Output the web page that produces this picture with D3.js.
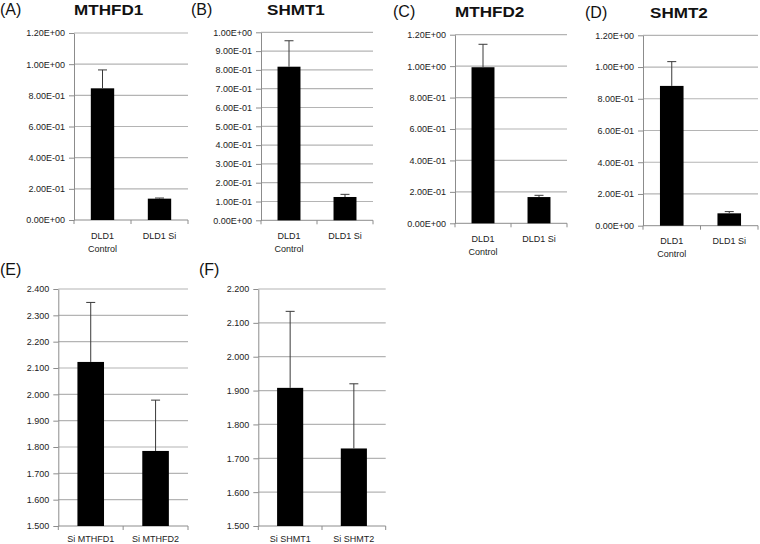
<!DOCTYPE html>
<html><head><meta charset="utf-8">
<script src="https://cdn.jsdelivr.net/npm/d3@7"></script>
<style>body{margin:0;background:#fff}svg{display:block}text{font-family:"Liberation Sans",Arial,sans-serif}</style>
</head><body>
<svg id="c" width="760" height="544"></svg>
<script>
// ---- data ----
const panelLetters = ["(A)", "(B)", "(C)", "(D)", "(E)", "(F)"];
const panelTitles = ["MTHFD1", "SHMT1", "MTHFD2", "SHMT2", "", ""];
const catsDLD = ["DLD1\nControl", "DLD1 Si"];
const catsE = ["Si MTHFD1", "Si MTHFD2"];
const catsF = ["Si SHMT1", "Si SHMT2"];

const valA = [0.845, 0.137], errA = [0.118, 0.004];
const valB = [0.817, 0.124], errB = [0.138, 0.014];
const valC = [0.993, 0.167], errC = [0.146, 0.011];
const valD = [0.881, 0.078], errD = [0.153, 0.011];
const valE = [2.123, 1.785], errE = [0.226, 0.193];
const valF = [1.908, 1.729], errF = [0.226, 0.191];

const ticks12 = [0, 0.2, 0.4, 0.6, 0.8, 1.0, 1.2];
const labels12 = ["0.00E+00", "2.00E-01", "4.00E-01", "6.00E-01", "8.00E-01", "1.00E+00", "1.20E+00"];
const ticks10 = [0, 0.1, 0.2, 0.3, 0.4, 0.5, 0.6, 0.7, 0.8, 0.9, 1.0];
const labels10 = ["0.00E+00", "1.00E-01", "2.00E-01", "3.00E-01", "4.00E-01", "5.00E-01", "6.00E-01", "7.00E-01", "8.00E-01", "9.00E-01", "1.00E+00"];
const ticksE = [1.5, 1.6, 1.7, 1.8, 1.9, 2.0, 2.1, 2.2, 2.3, 2.4];
const labelsE = ["1.500", "1.600", "1.700", "1.800", "1.900", "2.000", "2.100", "2.200", "2.300", "2.400"];
const ticksF = [1.5, 1.6, 1.7, 1.8, 1.9, 2.0, 2.1, 2.2];
const labelsF = ["1.500", "1.600", "1.700", "1.800", "1.900", "2.000", "2.100", "2.200"];

// ---- layout ----
const panels = [
  {cats: catsDLD, vals: valA, errs: errA, ticks: ticks12, labels: labels12, x0: 74, x1: 188, y0: 33, y1: 220, tx: 74, ty: 15, lx: 0, ly: 15, catY: 239},
  {cats: catsDLD, vals: valB, errs: errB, ticks: ticks10, labels: labels10, x0: 261, x1: 373, y0: 32.3, y1: 220.3, tx: 267, ty: 15, lx: 191, ly: 15, catY: 239},
  {cats: catsDLD, vals: valC, errs: errC, ticks: ticks12, labels: labels12, x0: 455, x1: 567, y0: 34.7, y1: 223.3, tx: 455, ty: 16.5, lx: 393, ly: 16.5, catY: 242},
  {cats: catsDLD, vals: valD, errs: errD, ticks: ticks12, labels: labels12, x0: 643, x1: 758, y0: 35.3, y1: 225.7, tx: 650, ty: 18, lx: 585, ly: 18, catY: 244},
  {cats: catsE, vals: valE, errs: errE, ticks: ticksE, labels: labelsE, x0: 58.3, x1: 188, y0: 289, y1: 526, lx: 0, ly: 275, catY: 542},
  {cats: catsF, vals: valF, errs: errF, ticks: ticksF, labels: labelsF, x0: 258.3, x1: 385.7, y0: 289, y1: 526, lx: 199, ly: 275, catY: 542}
];

const svg = d3.select("#c");

panels.forEach((p, i) => {
  const g = svg.append("g");
  const y = d3.scaleLinear().domain([p.ticks[0], p.ticks[p.ticks.length - 1]]).range([p.y1, p.y0]);
  const pad = 0.59;
  const x = d3.scaleBand().domain(p.cats).range([p.x0, p.x1]).paddingInner(pad).paddingOuter(pad / 2);

  // gridlines
  g.append("g").selectAll("line").data(p.ticks.slice(1)).join("line")
    .attr("x1", p.x0).attr("x2", p.x1)
    .attr("y1", d => y(d)).attr("y2", d => y(d))
    .attr("stroke", "#b4b4b4").attr("stroke-width", 1.2);

  // y axis
  const ya = g.append("g").attr("transform", `translate(${p.x0},0)`)
    .call(d3.axisLeft(y).tickValues(p.ticks).tickFormat((d, k) => p.labels[k]).tickSize(5).tickSizeOuter(0).tickPadding(4));
  ya.select(".domain").attr("stroke", "#8c8c8c");
  ya.selectAll(".tick line").attr("stroke", "#8c8c8c");
  ya.selectAll(".tick text").attr("fill", "#222").style("font-size", "9px").style("font-family", '"Liberation Sans",Arial,sans-serif');

  // x axis line + ticks at band edges
  g.append("line").attr("x1", p.x0).attr("x2", p.x1).attr("y1", p.y1).attr("y2", p.y1).attr("stroke", "#8c8c8c");
  const edges = [p.x0, (p.x0 + p.x1) / 2, p.x1];
  g.append("g").selectAll("line").data(edges).join("line")
    .attr("x1", d => d).attr("x2", d => d).attr("y1", p.y1).attr("y2", p.y1 + 4).attr("stroke", "#8c8c8c");

  // bars
  g.append("g").selectAll("rect").data(p.vals).join("rect")
    .attr("x", (d, k) => x(p.cats[k])).attr("width", x.bandwidth())
    .attr("y", d => y(d)).attr("height", d => p.y1 - y(d))
    .attr("fill", "#000");

  // error bars (upper)
  const eg = g.append("g").attr("stroke", "#3a3a3a").attr("stroke-width", 1);
  p.vals.forEach((v, k) => {
    const cx = x(p.cats[k]) + x.bandwidth() / 2;
    eg.append("line").attr("x1", cx).attr("x2", cx).attr("y1", y(v)).attr("y2", y(v + p.errs[k]));
    eg.append("line").attr("x1", cx - 4.5).attr("x2", cx + 4.5).attr("y1", y(v + p.errs[k])).attr("y2", y(v + p.errs[k]));
  });

  // category labels
  p.cats.forEach((c, k) => {
    const cx = x(c) + x.bandwidth() / 2;
    const t = g.append("text").attr("x", cx).attr("y", p.catY).attr("text-anchor", "middle")
      .style("font-size", "9px").attr("fill", "#222");
    c.split("\n").forEach((line, li) => {
      t.append("tspan").attr("x", cx).attr("dy", li === 0 ? 0 : 13).text(line);
    });
  });

  // panel letter
  g.append("text").attr("x", p.lx).attr("y", p.ly).style("font-size", "16px").attr("fill", "#111").text(panelLetters[i]);

  // title
  if (panelTitles[i]) {
    g.append("text").attr("transform", `translate(${p.tx},${p.ty}) scale(1.22,1)`)
      .style("font-size", "14px").style("font-weight", "bold").attr("fill", "#111").text(panelTitles[i]);
  }
});
</script>
</body></html>
